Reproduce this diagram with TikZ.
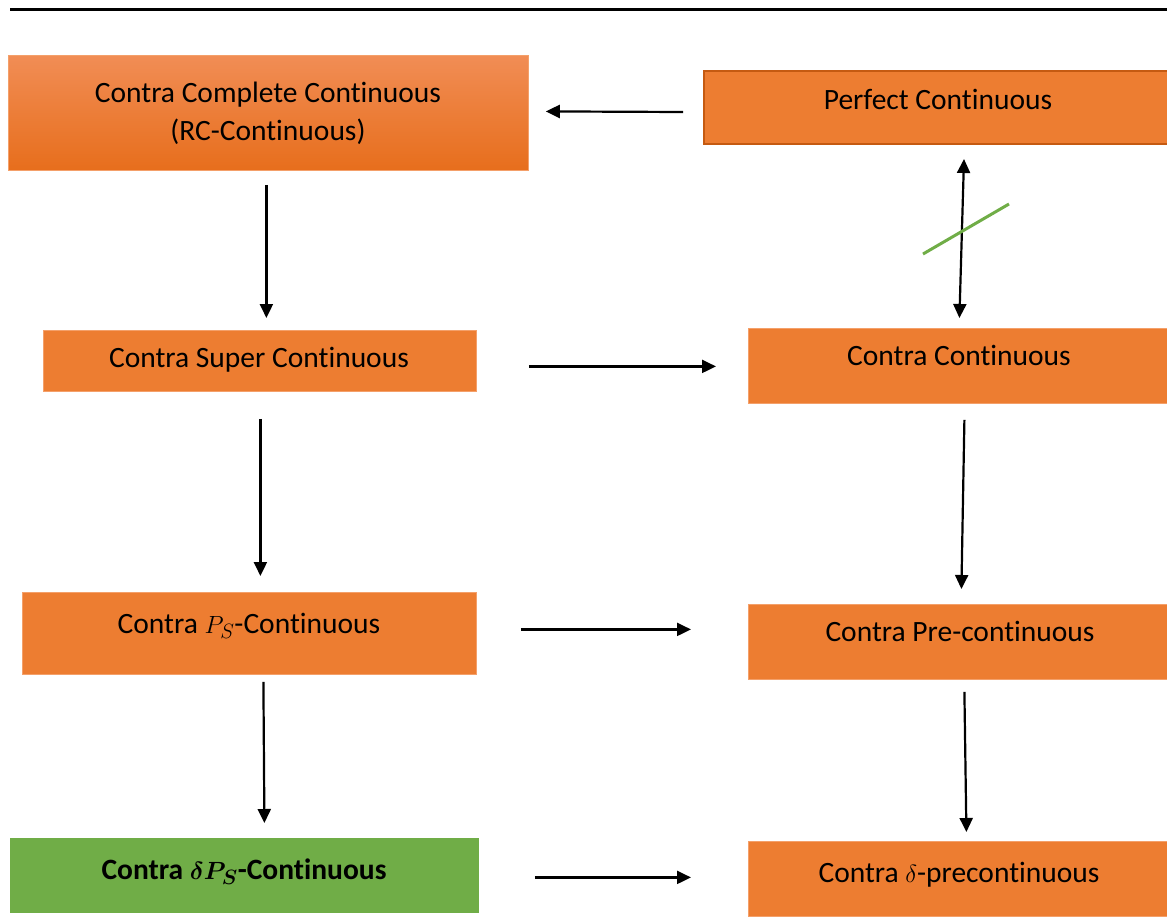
\documentclass[tikz,border=0pt]{standalone}
\usepackage{fontspec}
\setmainfont{Carlito}[Ligatures=NoCommon]
\usetikzlibrary{arrows.meta}
\definecolor{orng}{HTML}{ED7D31}
\definecolor{orngtop}{HTML}{F18D55}
\definecolor{orngbot}{HTML}{E76E1C}
\definecolor{orngdark}{HTML}{C55A11}
\definecolor{orngedge}{HTML}{F4A06A}
\definecolor{grn}{HTML}{70AD47}
\tikzset{
  box/.style={draw=orngedge, line width=0.8pt, fill=orng, anchor=north west, inner sep=0pt},
  lbl/.style={anchor=base, inner sep=0pt, font=\fontsize{29.5}{38}\selectfont, align=center},
  blbl/.style={anchor=base, inner sep=0pt, font=\fontsize{29.5}{38}\selectfont\bfseries\mathversion{bold}},
  arr/.style={line width=2.2pt, -{Triangle[length=14pt,width=13pt]}},
  darr/.style={line width=2.2pt, {Triangle[length=14pt,width=13pt]}-{Triangle[length=14pt,width=13pt]}},
}
\begin{document}
\begin{tikzpicture}[x=1pt,y=-1pt]
\useasboundingbox (0,0) rectangle (1167,916);
% top rule
\coordinate (r1) at (10,9);
\coordinate (r2) at (1167,9);
\draw[line width=3pt] (r1) -- (r2);
% boxes
\node[box, draw=orngedge, top color=orngtop, bottom color=orngbot, minimum width=520pt, minimum height=115pt] (A) at (8,55) {};
\node[box, draw=orngdark, line width=2pt, minimum width=470pt, minimum height=73pt] (B) at (703,70) {};
\node[box, minimum width=433pt, minimum height=61pt] (C) at (43,330) {};
\node[box, minimum width=425pt, minimum height=75pt] (D) at (748,328) {};
\node[box, minimum width=454pt, minimum height=82pt] (E) at (22,592) {};
\node[box, minimum width=425pt, minimum height=75pt] (F) at (748,604) {};
\node[box, draw=grn, fill=grn, minimum width=468pt, minimum height=74pt] (G) at (10,838) {};
\node[box, minimum width=425pt, minimum height=75pt] (H) at (748,841) {};
% texts
\node[lbl] (At) at (268,140) {Contra Complete Continuous\\(RC-Continuous)};
\node[lbl] (Bt) at (938,109) {Perfect Continuous};
\node[lbl] (Ct) at (259,367) {Contra Super Continuous};
\node[lbl] (Dt) at (959,365) {Contra Continuous};
\node[lbl] (Et) at (249,633) {Contra $P_S$-Continuous};
\node[lbl] (Ft) at (960,641) {Contra Pre-continuous};
\node[blbl] (Gt) at (244,879) {Contra $\delta P_S$-Continuous};
\node[lbl] (Ht) at (959,882) {Contra $\delta$-precontinuous};
% connectors
\draw[arr] ([xshift=-20pt,yshift=-4.5pt]B.west) -- ([xshift=17pt,yshift=1.5pt]A.east);
\draw[arr] ([xshift=-2pt,yshift=-14pt]A.south) -- ([xshift=6.5pt,yshift=12pt]C.north);
\draw[arr] ([xshift=52pt,yshift=-5.5pt]C.east) -- ([xshift=-32pt,yshift=-0.5pt]D.west);
\draw[darr] ([xshift=25pt,yshift=-14pt]B.south) -- ([xshift=-1.5pt,yshift=10pt]D.north);
\coordinate (g1) at (923,254);
\coordinate (g2) at (1009,204);
\draw[grn, line width=3pt] (g1) -- (g2);
\draw[arr] ([xshift=0.5pt,yshift=-27pt]C.south) -- ([xshift=11pt,yshift=16pt]E.north);
\draw[arr] ([xshift=3.5pt,yshift=-16pt]D.south) -- ([xshift=0.5pt,yshift=15pt]F.north);
\draw[arr] ([xshift=44pt,yshift=4pt]E.east) -- ([xshift=-57pt,yshift=12.5pt]F.west);
\draw[arr] ([xshift=14pt,yshift=-7pt]E.south) -- ([xshift=20pt,yshift=15pt]G.north);
\draw[arr] ([xshift=3.5pt,yshift=-12pt]F.south) -- ([xshift=5.5pt,yshift=9pt]H.north);
\draw[arr] ([xshift=56pt,yshift=-2pt]G.east) -- ([xshift=-57pt,yshift=1.5pt]H.west);
\end{tikzpicture}
\end{document}
